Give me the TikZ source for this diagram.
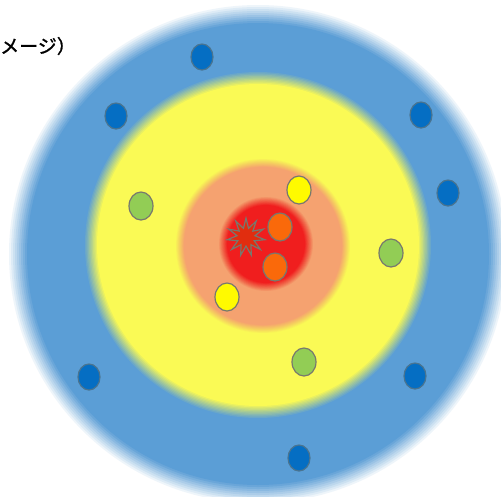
\documentclass[tikz,border=0pt]{standalone}
\usepackage{fontspec}
\newfontfamily\jpfont[FakeBold=1.2]{Noto Sans CJK JP}
\usetikzlibrary{shapes.geometric}
\definecolor{ringblue}{RGB}{91,158,214}
\definecolor{ringyellow}{RGB}{250,250,85}
\definecolor{ringsalmon}{RGB}{245,162,112}
\definecolor{ringred}{RGB}{240,30,30}
\definecolor{dotblue}{RGB}{5,110,195}
\definecolor{dotgreen}{RGB}{146,205,85}
\definecolor{dotyellow}{RGB}{255,250,0}
\definecolor{dotorange}{RGB}{250,105,10}
\definecolor{burstred}{RGB}{225,45,15}
\definecolor{rim}{RGB}{120,120,110}
\newcommand\softdisc[5]{%
  \foreach \k in {1,...,10}{%
    \pgfmathsetmacro\op{1/(11-\k)}%
    \fill[#1, opacity=\op] (#2,#3) circle ({#4+#5-2*#5*(\k-1)/9});
  }%
}
\tikzset{
  dot/.style={ellipse, draw=rim, line width=1.2pt, inner sep=0pt,
              minimum width=22pt, minimum height=26pt},
  bluedot/.style={dot, fill=dotblue, draw=rim!60!dotblue},
  greendot/.style={dot, fill=dotgreen, minimum width=24pt, minimum height=28pt},
  yellowdot/.style={dot, fill=dotyellow, minimum width=24pt, minimum height=28pt},
  orangedot/.style={dot, fill=dotorange, minimum width=24pt, minimum height=28pt},
}
\begin{document}
\begin{tikzpicture}[x=1pt, y=-1pt]
\useasboundingbox (0,0) rectangle (501,496);
\fill[white] (0,0) rectangle (501,496);
% concentric zones
\softdisc{ringblue}{258}{254}{240}{9}
\softdisc{ringyellow}{258}{245}{167}{6}
\softdisc{ringsalmon}{263}{246}{83}{4}
\softdisc{ringred}{266}{244}{43}{4}
% title fragment
\node[anchor=west, inner sep=0pt, font=\jpfont\fontsize{19}{22}\selectfont] (title) at (0,46) {メージ）};
% blue dots
\node[bluedot] (b1) at (202,57) {};
\node[bluedot] (b2) at (116,116) {};
\node[bluedot] (b3) at (421,115) {};
\node[bluedot] (b4) at (448,193) {};
\node[bluedot] (b5) at (89,377) {};
\node[bluedot] (b6) at (415,376) {};
\node[bluedot] (b7) at (299,458) {};
% green dots
\node[greendot] (g1) at (141,206) {};
\node[greendot] (g2) at (391,253) {};
\node[greendot] (g3) at (304,362) {};
% yellow dots
\node[yellowdot] (y1) at (299,190) {};
\node[yellowdot] (y2) at (227,297) {};
% orange dots
\node[orangedot] (o1) at (280,227) {};
\node[orangedot] (o2) at (275,267) {};
% burst
\node[star, star points=11, star point ratio=2.1, minimum size=38pt, inner sep=0pt,
      fill=burstred, draw=rim, line width=1.2pt] (burst) at (246,237) {};
\end{tikzpicture}
\end{document}
